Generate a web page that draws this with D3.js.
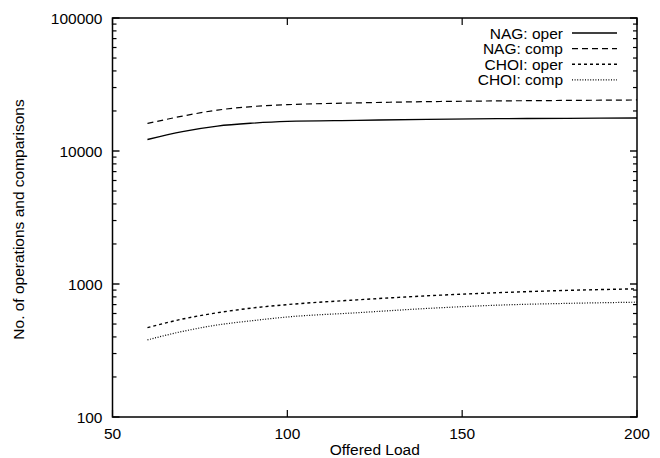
<!DOCTYPE html>
<html>
<head>
<meta charset="utf-8">
<script src="https://cdn.jsdelivr.net/npm/d3@7"></script>
<style>
  html, body { margin: 0; padding: 0; background: #fff; }
  svg { display: block; }
  text { font-family: "Liberation Sans", Arial, Helvetica, sans-serif; fill: #000; }
</style>
</head>
<body>
<svg id="chart" width="660" height="458"></svg>
<script>
// Offered load sample points
const load = [60, 70, 80, 90, 100, 120, 140, 160, 180, 200];

// Series values (operations / comparisons)
const nagOper  = [12200, 14000, 15400, 16200, 16700, 17000, 17300, 17500, 17600, 17700];
const nagComp  = [16100, 18300, 20300, 21600, 22300, 23000, 23500, 23800, 24000, 24200];
const choiOper = [470, 545, 608, 660, 700, 760, 815, 860, 895, 920];
const choiComp = [380, 440, 492, 530, 565, 608, 655, 693, 715, 730];

const seriesNames = ["NAG: oper", "NAG: comp", "CHOI: oper", "CHOI: comp"];
const seriesData = [nagOper, nagComp, choiOper, choiComp];
const dashes = [null, "6,4", "3,3", "1,1.6"];
const widths = [1.3, 1.2, 1.4, 1.2];

const xTicks = [50, 100, 150, 200];
const yTicks = [100, 1000, 10000, 100000];

const FS = 15.5;

const svg = d3.select("#chart");
const m = { left: 112.5, right: 637, top: 18, bottom: 417 };

const x = d3.scaleLinear().domain([50, 200]).range([m.left, m.right]);
const y = d3.scaleLog().domain([100, 100000]).range([m.bottom, m.top]);

// Minor log ticks (2..9 in each decade)
const minor = [];
for (let d = 100; d < 100000; d *= 10) {
  for (let k = 2; k <= 9; k++) minor.push(d * k);
}

const axisG = svg.append("g").attr("stroke", "#000").attr("fill", "none");

// Y ticks, left and right, pointing inward
yTicks.forEach(v => {
  axisG.append("line").attr("x1", m.left).attr("x2", m.left + 7)
    .attr("y1", y(v)).attr("y2", y(v)).attr("stroke-width", 1.4);
  axisG.append("line").attr("x1", m.right).attr("x2", m.right - 7)
    .attr("y1", y(v)).attr("y2", y(v)).attr("stroke-width", 1.4);
});
minor.forEach(v => {
  axisG.append("line").attr("x1", m.left).attr("x2", m.left + 4)
    .attr("y1", y(v)).attr("y2", y(v)).attr("stroke-width", 1.2);
  axisG.append("line").attr("x1", m.right).attr("x2", m.right - 4)
    .attr("y1", y(v)).attr("y2", y(v)).attr("stroke-width", 1.2);
});
// X ticks, bottom and top
xTicks.forEach(v => {
  axisG.append("line").attr("x1", x(v)).attr("x2", x(v))
    .attr("y1", m.bottom).attr("y2", m.bottom - 7).attr("stroke-width", 1.2);
  axisG.append("line").attr("x1", x(v)).attr("x2", x(v))
    .attr("y1", m.top).attr("y2", m.top + 7).attr("stroke-width", 1.2);
});

// Frame
axisG.append("rect")
  .attr("x", m.left).attr("y", m.top)
  .attr("width", m.right - m.left).attr("height", m.bottom - m.top)
  .attr("stroke-width", 1.5);

// Tick labels
svg.append("g").selectAll("text").data(yTicks).join("text")
  .attr("x", m.left - 10).attr("y", d => y(d)).attr("dy", "0.36em")
  .attr("text-anchor", "end").attr("font-size", FS)
  .text(d => d);
svg.append("g").selectAll("text").data(xTicks).join("text")
  .attr("x", d => x(d)).attr("y", 433).attr("dy", "0.36em")
  .attr("text-anchor", "middle").attr("font-size", FS)
  .text(d => d);

// Axis titles
svg.append("text").attr("x", x(125)).attr("y", 449).attr("dy", "0.36em")
  .attr("text-anchor", "middle").attr("font-size", FS).text("Offered Load");
svg.append("text")
  .attr("transform", `translate(18,${(m.top + m.bottom) / 2 + 2}) rotate(-90)`)
  .attr("dy", "0.36em")
  .attr("text-anchor", "middle").attr("font-size", FS)
  .text("No. of operations and comparisons");

// Curves
const line = d3.line().curve(d3.curveMonotoneX)
  .x((d, i) => x(load[i])).y(d => y(d));

seriesData.forEach((s, i) => {
  svg.append("path").datum(s)
    .attr("d", line)
    .attr("fill", "none").attr("stroke", "#000")
    .attr("stroke-width", widths[i])
    .attr("stroke-dasharray", dashes[i]);
});

// Legend
const lg = svg.append("g");
seriesNames.forEach((name, i) => {
  const yy = 33 + i * 15.6;
  lg.append("text").attr("x", 563).attr("y", yy).attr("dy", "0.36em")
    .attr("text-anchor", "end").attr("font-size", FS).text(name);
  lg.append("line").attr("x1", 572).attr("x2", 617).attr("y1", yy).attr("y2", yy)
    .attr("stroke", "#000").attr("stroke-width", widths[i])
    .attr("stroke-dasharray", dashes[i]);
});
</script>
</body>
</html>
